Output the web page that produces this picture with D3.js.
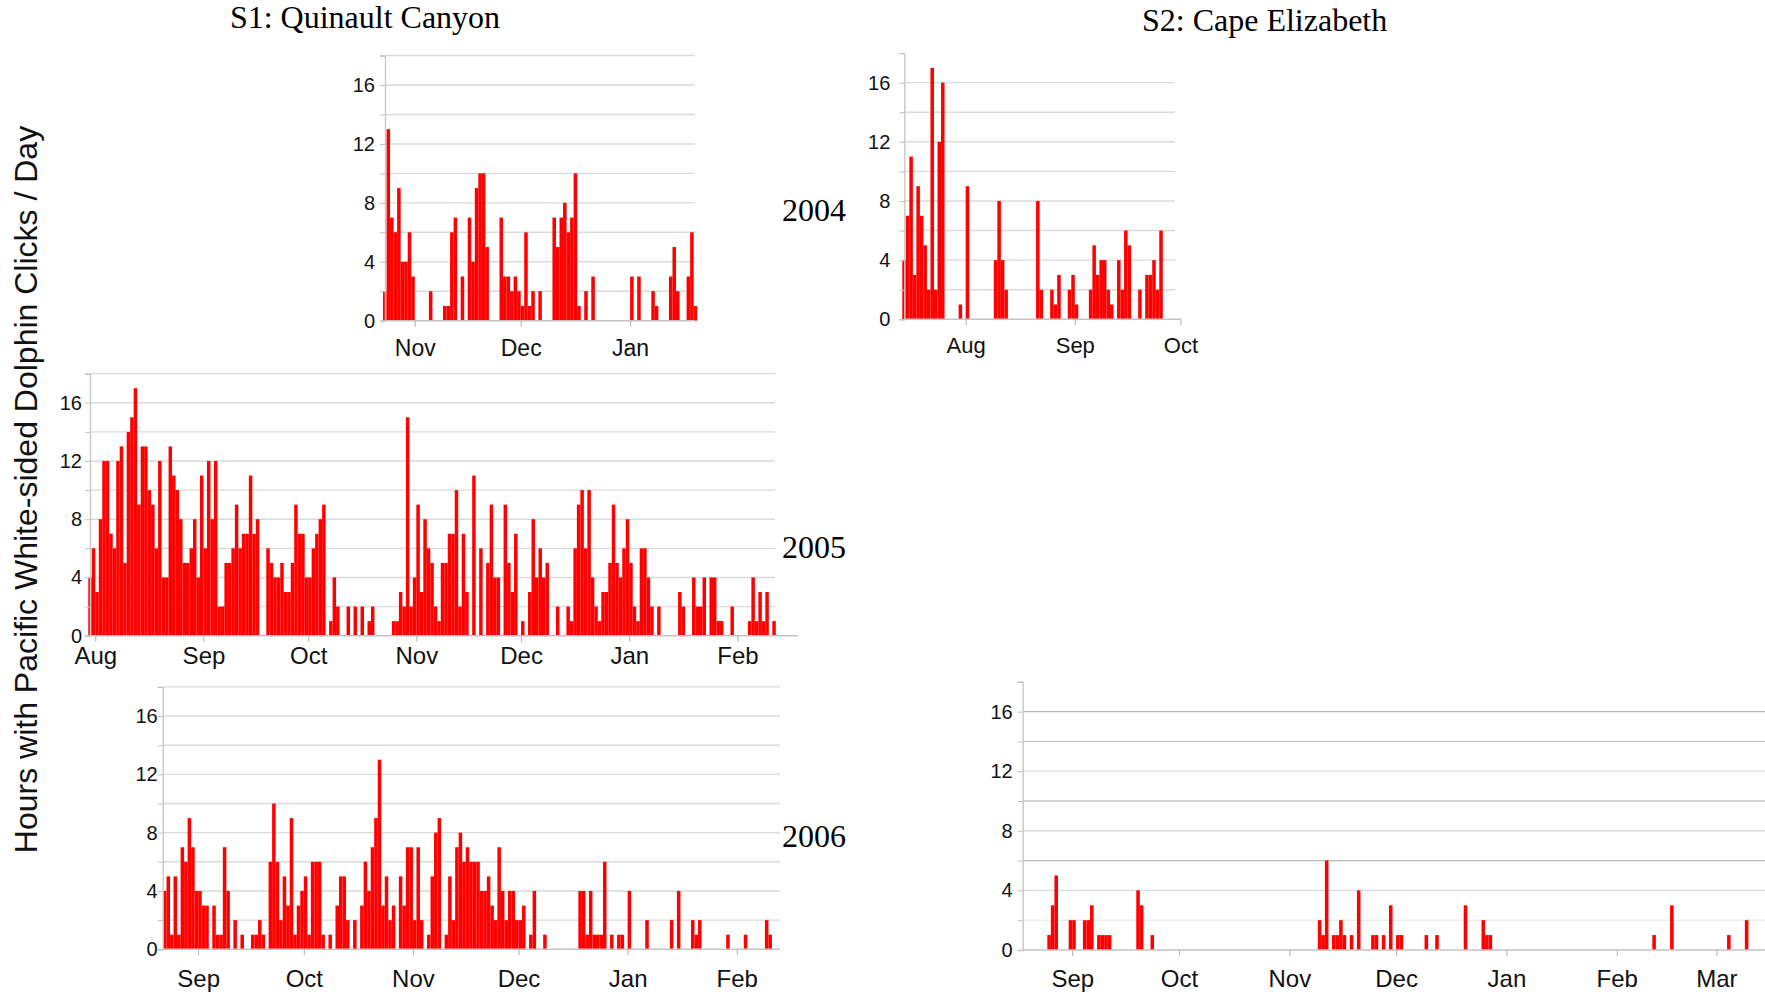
<!DOCTYPE html>
<html>
<head>
<meta charset="utf-8">
<script src="https://cdn.jsdelivr.net/npm/d3@7"></script>
<style>
  body { margin: 0; background: #fff; }
  #plot { width: 1765px; height: 998px; }
</style>
</head>
<body>
<div id="plot"></div>
<script>
// Hours per day with dolphin clicks, one value per day from each start date
var s1_2004 = [
  2,13,7,6,9,4,4,6,3,0,  0,0,0,2,0,0,0,1,1,6,  7,0,3,0,7,4,9,10,10,5,
  0,0,0,7,3,3,2,3,2,1,  6,1,2,0,2,0,0,0,7,5,  7,8,6,7,10,1,0,2,0,3,
  0,0,0,0,0,0,0,0,0,0,  3,0,3,0,0,0,2,1,0,0,  0,3,5,2,0,0,3,6,1
];
var s2_2004 = [
  4,7,11,3,9,7,5,2,17,2,  12,16,0,0,0,0,1,0,9,0,  0,0,0,0,0,0,4,8,4,2,
  0,0,0,0,0,0,0,0,8,2,  0,0,2,1,3,0,0,2,3,1,  0,0,0,2,5,3,4,4,2,1,
  0,4,2,6,5,0,0,2,0,3,  3,4,2,6,0,0,0,0,0
];
var s1_2005 = [
  4,6,3,8,12,12,7,6,12,13,  5,14,15,17,9,13,13,10,9,6,  12,4,4,13,11,10,8,5,5,6,
  8,4,11,6,12,8,12,2,2,5,  5,6,9,6,7,7,11,7,8,0,  0,6,5,4,4,5,3,3,5,9,
  7,7,4,4,6,7,8,9,0,1,  4,2,0,0,2,0,2,0,2,0,  1,2,0,0,0,0,0,1,1,3,
  2,15,2,4,9,3,8,6,5,2,  1,5,5,7,7,10,2,7,3,0,  11,0,6,0,5,9,4,4,0,9,
  5,3,7,0,1,0,3,8,4,6,  4,5,0,0,2,0,0,2,1,6,  9,10,6,10,4,2,1,3,3,5,
  9,5,4,6,8,5,2,1,6,6,  4,2,0,2,0,0,0,0,0,3,  2,0,0,4,2,2,4,0,4,4,
  1,1,0,0,2,0,0,0,0,1,  4,1,3,1,3,0,1
];
var s1_2006 = [
  4,5,1,5,1,7,6,9,7,4,  4,3,3,0,3,1,1,7,4,0,  2,0,1,0,0,1,1,2,1,0,
  6,10,6,2,5,3,9,1,3,4,  5,1,6,6,6,1,0,1,0,3,  5,5,2,0,2,0,3,6,4,7,
  9,13,3,5,2,3,0,5,3,7,  7,2,7,2,0,1,5,8,9,0,  1,5,2,7,8,6,7,6,6,6,
  4,4,5,3,2,7,4,2,4,4,  2,2,3,0,1,4,0,0,1,0,  0,0,0,0,0,0,0,0,4,4,
  1,4,1,1,1,6,0,1,0,1,  1,0,4,0,0,0,0,2,0,0,  0,0,0,0,2,0,4,0,0,0,
  2,1,2,0,0,0,0,0,0,0,  1,0,0,0,0,1,0,0,0,0,  0,2,1,0,0
];
var s2_2006 = [
  0,0,0,0,0,0,0,1,3,5,  0,0,0,2,2,0,0,2,2,3,  0,1,1,1,1,0,0,0,0,0,
  0,0,4,3,0,0,1,0,0,0,  0,0,0,0,0,0,0,0,0,0,  0,0,0,0,0,0,0,0,0,0,
  0,0,0,0,0,0,0,0,0,0,  0,0,0,0,0,0,0,0,0,0,  0,0,0,2,1,6,0,1,1,2,
  1,0,1,0,4,0,0,0,1,1,  0,1,0,3,0,1,1,0,0,0,  0,0,0,1,0,0,1,0,0,0,
  0,0,0,0,3,0,0,0,0,2,  1,1,0,0,0,0,0,0,0,0,  0,0,0,0,0,0,0,0,0,0,
  0,0,0,0,0,0,0,0,0,0,  0,0,0,0,0,0,0,0,0,0,  0,0,0,0,0,0,0,1,0,0,
  0,0,3,0,0,0,0,0,0,0,  0,0,0,0,0,0,0,0,1,0,  0,0,0,2,0,0,0,0,0
];

var yTickValues = [0, 2, 4, 6, 8, 10, 12, 14, 16, 18];
var yLabelValues = [0, 4, 8, 12, 16];
var siteTitles = ["S1: Quinault Canyon", "S2: Cape Elizabeth"];
var yearLabels = ["2004", "2005", "2006"];
var yTitle = "Hours with Pacific White-sided Dolphin Clicks / Day";

var w = 1765, h = 998;
var sans = "'Liberation Sans', Arial, sans-serif";
var serif = "'Liberation Serif', 'Times New Roman', serif";

var svg = d3.select("#plot").append("svg")
    .attr("width", w)
    .attr("height", h);

svg.append("rect").attr("width", w).attr("height", h).attr("fill", "#fff");

// panel layout (pixel placement of each small chart)
var panels = [
  {data: s1_2004, start: new Date(2004, 9, 23), left: 383, right: 697.2, axisX: 385, base: 320.7, unit: 14.73,
   gridRight: 695, lineRight: 695, labGap: 10, monthDy: 35, monthSize: 23, gridTop: 18},
  {data: s2_2004, start: new Date(2004, 6, 14), left: 902.3, right: 1180.4, axisX: 904.3, base: 319.3, unit: 14.79,
   gridRight: 1175, lineRight: 1181, labGap: 14, monthDy: 33.5, monthSize: 22, gridTop: 16},
  {data: s1_2005, start: new Date(2005, 6, 30), left: 88.3, right: 775.8, axisX: 90, base: 635.7, unit: 14.56,
   gridRight: 775, lineRight: 798, labGap: 8, monthDy: 28, monthSize: 24, gridTop: 18},
  {data: s1_2006, start: new Date(2006, 7, 22), left: 163, right: 779, axisX: 162.7, base: 949.3, unit: 14.58,
   gridRight: 780, lineRight: 780, labGap: 5, monthDy: 37.5, monthSize: 24, gridTop: 18},
  {data: s2_2006, start: new Date(2006, 7, 18), left: 1022.4, right: 1766.2, axisX: 1022.7, base: 950, unit: 14.9,
   gridRight: 1765, lineRight: 1765, labGap: 10, monthDy: 37, monthSize: 24, gridTop: 16, shaded: true}
];

// the lower right chart has some darker grid lines
var shadedGrid = {2: "#ebebeb", 4: "#dcdcdc", 6: "#b8b8b8", 8: "#dcdcdc", 10: "#c4c4c4", 12: "#e4e4e4", 14: "#c6c6c6", 16: "#b4b4b4"};

panels.forEach(function(p) {
  var g = svg.append("g");

  var xScale = d3.scaleTime()
      .domain([p.start, d3.timeDay.offset(p.start, p.data.length)])
      .range([p.left, p.right]);

  var yScale = d3.scaleLinear()
      .domain([0, 18])
      .range([p.base, p.base - 18 * p.unit]);

  // grid lines
  var gridVals = yTickValues.filter(function(v) { return v > 0 && v <= p.gridTop; });
  g.selectAll(".grid")
      .data(gridVals)
      .enter().append("line")
      .attr("x1", p.axisX)
      .attr("x2", p.gridRight)
      .attr("y1", function(d) { return yScale(d); })
      .attr("y2", function(d) { return yScale(d); })
      .attr("stroke", function(d) { return p.shaded ? shadedGrid[d] : "#dadada"; })
      .attr("stroke-width", 1.4);

  // bars
  var days = p.data.map(function(v, i) { return {date: d3.timeDay.offset(p.start, i), v: v}; })
      .filter(function(d) { return d.v > 0; });

  g.selectAll(".bar")
      .data(days)
      .enter().append("rect")
      .attr("x", function(d) { return xScale(d.date); })
      .attr("width", function(d) { return xScale(d3.timeDay.offset(d.date, 1)) - xScale(d.date); })
      .attr("y", function(d) { return yScale(d.v); })
      .attr("height", function(d) { return p.base - yScale(d.v); })
      .attr("fill", "#ff0000");

  // baseline
  g.append("line")
      .attr("x1", p.axisX).attr("x2", p.lineRight)
      .attr("y1", p.base).attr("y2", p.base)
      .attr("stroke", "#c4c4c4")
      .attr("stroke-width", 1.4);

  // x axis (month ticks)
  var xAxis = d3.axisBottom(xScale)
      .ticks(d3.timeMonth.every(1))
      .tickFormat(d3.timeFormat("%b"))
      .tickSizeInner(6)
      .tickSizeOuter(0);

  var xg = g.append("g")
      .attr("transform", "translate(0," + p.base + ")")
      .call(xAxis);
  xg.select(".domain").remove();
  xg.selectAll(".tick line").attr("stroke", "#b0b0b0");
  xg.selectAll(".tick text")
      .attr("y", p.monthDy)
      .attr("dy", 0)
      .attr("fill", "#111")
      .style("font-family", sans)
      .style("font-size", p.monthSize + "px");

  // y axis
  var yAxis = d3.axisLeft(yScale)
      .tickValues(yTickValues)
      .tickSize(5)
      .tickPadding(p.labGap - 5)
      .tickFormat(function(d) { return yLabelValues.indexOf(d) >= 0 ? d : ""; });

  var yg = g.append("g")
      .attr("transform", "translate(" + p.axisX + ",0)")
      .call(yAxis);
  yg.select(".domain").attr("stroke", "#c8c8c8").attr("stroke-width", 1.4);
  yg.selectAll(".tick line").attr("stroke", "#c0c0c0");
  yg.selectAll(".tick text")
      .attr("fill", "#111")
      .style("font-family", sans)
      .style("font-size", "20px");
});

// site titles
svg.append("text")
    .attr("x", 365).attr("y", 27.5)
    .attr("text-anchor", "middle")
    .style("font-family", serif).style("font-size", "32px")
    .text(siteTitles[0]);
svg.append("text")
    .attr("x", 1264.6).attr("y", 31)
    .attr("text-anchor", "middle")
    .style("font-family", serif).style("font-size", "32px")
    .text(siteTitles[1]);

// year labels
var yearY = [221, 558, 847];
yearLabels.forEach(function(t, i) {
  svg.append("text")
      .attr("x", 782).attr("y", yearY[i])
      .style("font-family", serif).style("font-size", "32px")
      .text(t);
});

// y axis title
svg.append("text")
    .attr("transform", "translate(37,489.5) rotate(-90)")
    .attr("text-anchor", "middle")
    .style("font-family", sans).style("font-size", "32px")
    .attr("fill", "#111")
    .text(yTitle);
</script>
</body>
</html>
